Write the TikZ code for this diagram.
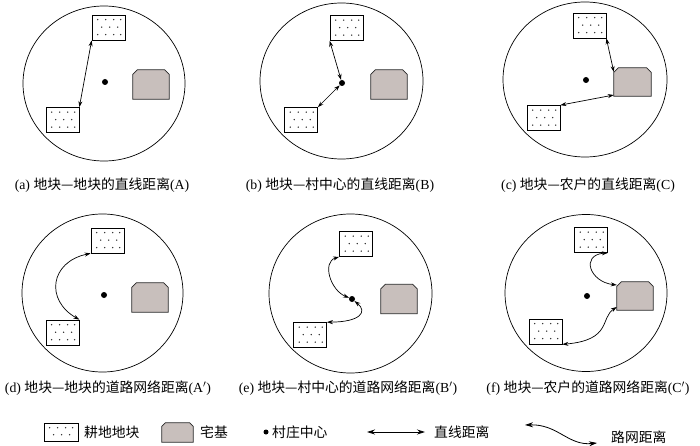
\documentclass[tikz,border=0pt]{standalone}
\usepackage{fontspec}
\setmainfont{Liberation Serif}
\newfontfamily\cjk{Noto Sans CJK SC}
\usetikzlibrary{arrows.meta}
\definecolor{housefill}{RGB}{200,191,188}
\newcommand{\zh}[1]{{\cjk #1}}
\tikzset{
  plotbox/.style={draw, fill=white, line width=0.7pt, minimum width=33pt, minimum height=25pt, inner sep=0pt},
  dotfill/.pic={\foreach \px/\py in {6/5,14/5,22/5,29/5,10/12.5,18/12.5,26/12.5,6/20,14/20,22/20,29/20}
      \fill[black!85] (\px,\py) circle (0.75pt);},
  dotfillsmall/.pic={\foreach \px/\py in {6/5,14/5,22/5,29/5,10/12,18/12,26/12}
      \fill[black!85] (\px,\py) circle (0.75pt);},
  housebox/.style={rectangle, draw=none, minimum width=36pt, minimum height=29pt, inner sep=0pt},
  houseline/.style={draw=black!85, fill=housefill, line width=0.7pt, line join=miter},
  cdot/.style={circle, fill=black, inner sep=0pt, minimum size=6pt},
  dist/.style={{Stealth[length=6pt,width=4pt]}-{Stealth[length=6pt,width=4pt]}, line width=0.7pt},
  legdist/.style={{Stealth[length=8pt,width=5pt]}-{Stealth[length=8pt,width=5pt]}, line width=0.8pt},
  boundary/.style={line width=0.7pt},
  captext/.style={font=\fontsize{13.8}{16}\selectfont, inner sep=0pt},
  legtext/.style={font=\fontsize{13.8}{16}\selectfont, inner sep=0pt, anchor=west}
}
% house outline with chamfered top corners around a named node
\newcommand{\homestead}[2]{%
  \filldraw[houseline] (#1.south west) -- ([yshift=-#2]#1.north west) -- ([xshift=#2]#1.north west)
    -- ([xshift=-#2]#1.north east) -- ([yshift=-#2]#1.north east) -- (#1.south east) -- cycle;}
\begin{document}
\begin{tikzpicture}[x=1pt,y=-1pt]
\useasboundingbox (0,0) rectangle (700,446);
% ---------- (a)
\draw[boundary] (104,83.5) ellipse [x radius=81pt, y radius=77.5pt];
\node[plotbox] (pa1) at (108.5,27.5) {};
\pic at (pa1.north west) {dotfill};
\node[plotbox] (pa2) at (62.5,120) {};
\pic at (pa2.north west) {dotfill};
\node[housebox] (ha) at (151,84.5) {};
\homestead{ha}{4.5pt}
\node[cdot] (ca) at (105,82) {};
\draw[dist] (pa2.north east) -- (pa1.south west);
\node[captext] (capa) at (102,185) {(a) \zh{地块—地块的直线距离}(A)};
% ---------- (b)
\draw[boundary] (341.5,81) ellipse [x radius=81.5pt, y radius=78pt];
\node[plotbox] (pb1) at (346.5,28) {};
\pic at (pb1.north west) {dotfill};
\node[plotbox] (pb2) at (301,120) {};
\pic at (pb2.north west) {dotfill};
\node[housebox] (hb) at (389,84.5) {};
\homestead{hb}{4.5pt}
\node[cdot] (cb) at (342,83) {};
\draw[dist] (pb1.south west) -- (cb);
\draw[dist] (cb) -- (pb2.north east);
\node[captext] (capb) at (340,185) {(b) \zh{地块—村中心的直线距离}(B)};
% ---------- (c)
\draw[boundary] (585,79.5) ellipse [x radius=82pt, y radius=77.5pt];
\node[plotbox] (pc1) at (589.5,25.5) {};
\pic at (pc1.north west) {dotfill};
\node[plotbox] (pc2) at (543.5,118) {};
\pic at (pc2.north west) {dotfill};
\node[housebox, minimum width=37pt, minimum height=28pt] (hc) at (632.5,82) {};
\homestead{hc}{4.5pt}
\node[cdot] (cc) at (586,80) {};
\draw[dist] (pc1.south east) -- ([yshift=10pt]hc.west);
\draw[dist] ([yshift=-13pt]hc.west) -- (pc2.north east);
\node[captext] (capc) at (588,185) {(c) \zh{地块—农户的直线距离}(C)};
% ---------- (d)
\draw[boundary] (102.5,293) ellipse [x radius=80.5pt, y radius=79pt];
\node[plotbox] (pd1) at (107.5,240.5) {};
\pic at (pd1.north west) {dotfill};
\node[plotbox] (pd2) at (62.5,332.5) {};
\pic at (pd2.north west) {dotfill};
\node[housebox] (hd) at (150,297.5) {};
\homestead{hd}{4.5pt}
\node[cdot] (cd) at (104,295) {};
\draw[dist] (pd1.south west) .. controls (50,262) and (45,300) .. (pd2.north east);
\node[captext] (capd) at (108,388) {(d) \zh{地块—地块的道路网络距离}(A$'$)};
% ---------- (e)
\draw[boundary] (350.5,293.5) ellipse [x radius=81.5pt, y radius=79.5pt];
\node[plotbox] (pe1) at (356,244) {};
\pic at (pe1.north west) {dotfill};
\node[plotbox] (pe2) at (310,335) {};
\pic at (pe2.north west) {dotfill};
\node[housebox] (he) at (399,299) {};
\homestead{he}{4.5pt}
\node[cdot] (ce) at (352,299) {};
\draw[dist] (pe1.south west) .. controls (322,262) and (330,290) .. (ce);
\draw[dist] (ce) .. controls (368,312) and (360,322) .. (pe2.north east);
\node[captext] (cape) at (348,388) {(e) \zh{地块—村中心的道路网络距离}(B$'$)};
% ---------- (f)
\draw[boundary] (586,293) ellipse [x radius=81pt, y radius=78.5pt];
\node[plotbox] (pf1) at (591,240) {};
\pic at (pf1.north west) {dotfill};
\node[plotbox] (pf2) at (545.5,331.5) {};
\pic at (pf2.north west) {dotfill};
\node[housebox, minimum height=28pt] (hf) at (635,296) {};
\homestead{hf}{4.5pt}
\node[cdot] (cf) at (587,296) {};
\draw[dist] (pf1.south east) .. controls (580,255) and (590,282) .. ([yshift=11pt]hf.west);
\draw[dist] ([yshift=-11pt]hf.west) .. controls (600,318) and (612,340) .. (pf2.south east);
\node[captext] (capf) at (588,388) {(f) \zh{地块—农户的道路网络距离}(C$'$)};
% ---------- legend
\node[plotbox, minimum width=34pt, minimum height=18pt] (lp) at (61,432) {};
\pic at (lp.north west) {dotfillsmall};
\node[legtext] (lpt) at (84,432) {\zh{耕地地块}};
\node[housebox, minimum width=31pt, minimum height=19pt] (lh) at (177.5,432.5) {};
\homestead{lh}{3.5pt}
\node[legtext] (lht) at (200,432) {\zh{宅基}};
\node[cdot, minimum size=5pt] (ld) at (266,432) {};
\node[legtext] (ldt) at (272,432) {\zh{村庄中心}};
\coordinate (la1) at (367,432);
\coordinate (la2) at (425,432);
\draw[legdist] (la1) -- (la2);
\node[legtext] (lat) at (434,432) {\zh{直线距离}};
\coordinate (lw1) at (525,425);
\coordinate (lw2) at (597,443);
\draw[legdist] (lw1) .. controls (558,424) and (568,446) .. (lw2);
\node[legtext] (lwt) at (611,437) {\zh{路网距离}};
\end{tikzpicture}
\end{document}
